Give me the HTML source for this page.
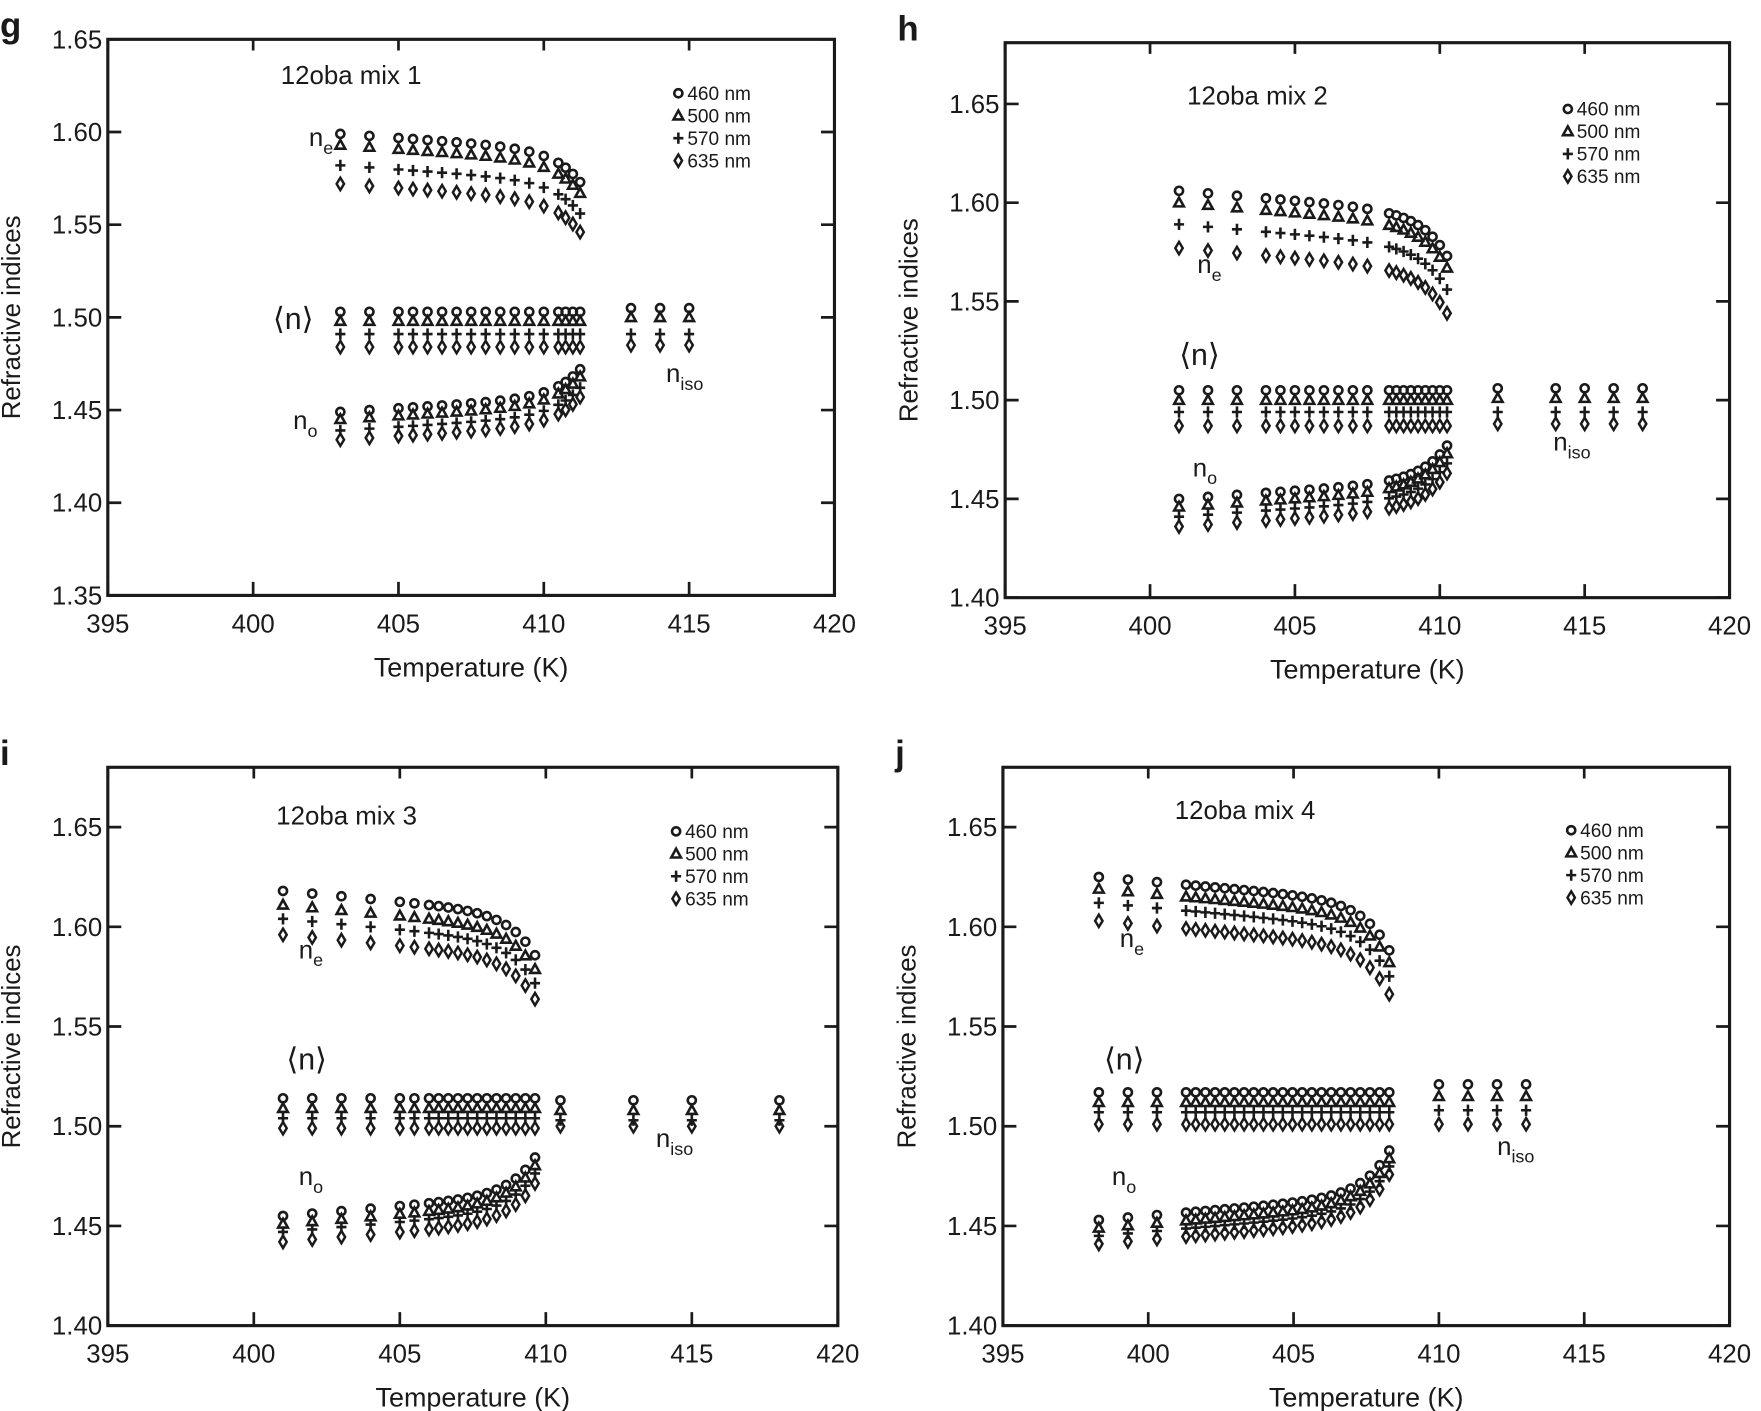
<!DOCTYPE html>
<html><head><meta charset="utf-8"><style>html,body{margin:0;padding:0;background:#fff}svg{display:block}text{font-family:"Liberation Sans",sans-serif;fill:#1a1a1a}</style></head>
<body>
<svg id="s" width="1761" height="1411" viewBox="0 0 1568 1256" preserveAspectRatio="none" xmlns="http://www.w3.org/2000/svg"></svg>
<script>
const S=document.getElementById('s');let h='';
function rng(a,b,s){const r=[];for(let t=a;t<=b+1e-6;t+=s)r.push(+t.toFixed(3));return r;}
function mk(type,x,y){
 if(type==0)return `<circle cx="${x}" cy="${y}" r="3.6" fill="none" stroke="#1a1a1a" stroke-width="2.3"/>`;
 if(type==1)return `<path d="M${x} ${y-4.5}L${x+4.3} ${y+3.3}L${x-4.3} ${y+3.3}Z" fill="none" stroke="#1a1a1a" stroke-width="2.3"/>`;
 if(type==2)return `<path d="M${x-4.5} ${y}H${x+4.5}M${x} ${y-5}V${y+5}" stroke="#1a1a1a" stroke-width="2.3"/>`;
 return `<path d="M${x} ${y-5.5}L${x+3.3} ${y}L${x} ${y+5.5}L${x-3.3} ${y}Z" fill="none" stroke="#1a1a1a" stroke-width="2.2"/>`;
}
const P=[
 {L:'g',x0:96,x1:743,y0:35,y1:530,ymin:1.35,ymax:1.65,yt:[1.35,1.40,1.45,1.50,1.55,1.60,1.65],
  temps:[403,404].concat(rng(405,410.5,0.5),[410.75,411,411.25]),T0:403,Tc:411.25,
  ne:[1.599,-0.026],neo:[0,-0.006,-0.017,-0.027],no:[1.449,0.023],noo:[0,-0.004,-0.010,-0.015],
  mean:[1.503,1.498,1.491,1.484],iso:[413,414,415],isov:[1.505,1.500,1.491,1.485],
  title:[250,75,'12oba mix 1'],leg:[604,83],ne_l:[275,130],n_l:[243,293],no_l:[261,382],iso_l:[593,340]},
 {L:'h',x0:895,x1:1540,y0:38,y1:532,ymin:1.40,ymax:1.681,yt:[1.40,1.45,1.50,1.55,1.60,1.65],
  temps:[401,402,403].concat(rng(404,407.5,0.5),rng(408.25,410.25,0.25)),T0:401,Tc:410.25,
  ne:[1.606,-0.033],neo:[0,-0.006,-0.017,-0.029],no:[1.450,0.027],noo:[0,-0.004,-0.009,-0.014],
  mean:[1.505,1.500,1.494,1.487],iso:[412,414,415,416,417],isov:[1.506,1.501,1.494,1.488],
  title:[1057,93,'12oba mix 2'],leg:[1396,97],ne_l:[1066,243],n_l:[1050,325],no_l:[1062,424],iso_l:[1383,401]},
 {L:'i',x0:96,x1:746,y0:683,y1:1180,ymin:1.40,ymax:1.68,yt:[1.40,1.45,1.50,1.55,1.60,1.65],
  temps:[401,402,403,404,405,405.5].concat(rng(406,409.66,0.33)),T0:401,Tc:409.66,
  ne:[1.618,-0.033],neo:[0,-0.007,-0.014,-0.022],no:[1.455,0.030],noo:[0,-0.004,-0.008,-0.013],
  mean:[1.514,1.509,1.504,1.499],iso:[410.5,413,415,418],isov:[1.513,1.508,1.503,1.500],
  title:[246,734,'12oba mix 3'],leg:[602,740],ne_l:[266,853],n_l:[255,952],no_l:[266,1055],iso_l:[584,1021]},
 {L:'j',x0:893,x1:1540,y0:683,y1:1180,ymin:1.40,ymax:1.68,yt:[1.40,1.45,1.50,1.55,1.60,1.65],
  temps:[398.3,399.3,400.3].concat(rng(401.3,408.3,0.333)),T0:398.3,Tc:408.3,
  ne:[1.625,-0.037],neo:[0,-0.006,-0.013,-0.022],no:[1.453,0.035],noo:[0,-0.004,-0.008,-0.012],
  mean:[1.517,1.512,1.507,1.501],iso:[410,411,412,413],isov:[1.521,1.515,1.508,1.501],
  title:[1046,729,'12oba mix 4'],leg:[1399,739],ne_l:[997,843],n_l:[983,952],no_l:[990,1055],iso_l:[1333,1028]}
];
for(const p of P){
 const X=t=>p.x0+(t-395)/25*(p.x1-p.x0), Y=v=>p.y1-(v-p.ymin)/(p.ymax-p.ymin)*(p.y1-p.y0);
 h+=`<rect x="${p.x0}" y="${p.y0}" width="${p.x1-p.x0}" height="${p.y1-p.y0}" fill="none" stroke="#1a1a1a" stroke-width="2.8"/>`;
 for(let t=395;t<=420;t+=5){const x=X(t);
  h+=`<path d="M${x} ${p.y1}v-12M${x} ${p.y0}v10" stroke="#1a1a1a" stroke-width="2.4"/>`;
  h+=`<text x="${x}" y="${p.y1+33}" font-size="23" text-anchor="middle">${t}</text>`;}
 for(const v of p.yt){const y=Y(v);
  h+=`<path d="M${p.x0} ${y}h12M${p.x1} ${y}h-12" stroke="#1a1a1a" stroke-width="2.4"/>`;
  h+=`<text x="${p.x0-5}" y="${y+8}" font-size="23" text-anchor="end">${v.toFixed(2)}</text>`;}
 const cy=(p.y0+p.y1)/2, cx=(p.x0+p.x1)/2;
 h+=`<text transform="translate(${p.x0-78},${cy}) rotate(-90)" font-size="23" text-anchor="middle">Refractive indices</text>`;
 h+=`<text x="${cx}" y="${p.y1+72}" font-size="24" text-anchor="middle">Temperature (K)</text>`;
 h+=`<text x="${p.x0-96}" y="${p.y0-2}" font-size="31" font-weight="bold">${p.L}</text>`;
 const f=t=>{const e=Math.exp((t-p.Tc)/0.9), e0=Math.exp((p.T0-p.Tc)/0.9);return 0.35*(t-p.T0)/(p.Tc-p.T0)+0.65*(e-e0)/(1-e0);};
 for(const t of p.temps){const x=X(t);
  for(let k=0;k<4;k++){
   h+=mk(k,x,Y(p.ne[0]+p.neo[k]+p.ne[1]*f(t)));
   h+=mk(k,x,Y(p.no[0]+p.noo[k]+p.no[1]*f(t)));
   h+=mk(k,x,Y(p.mean[k]));}}
 for(const t of p.iso)for(let k=0;k<4;k++)h+=mk(k,X(t),Y(p.isov[k]));
 h+=`<text x="${p.title[0]}" y="${p.title[1]}" font-size="23">${p.title[2]}</text>`;
 const nm=['460 nm','500 nm','570 nm','635 nm'];
 for(let k=0;k<4;k++){const y=p.leg[1]+k*20;h+=mk(k,p.leg[0],y);h+=`<text x="${p.leg[0]+8}" y="${y+6}" font-size="17">${nm[k]}</text>`;}
 h+=`<text x="${p.ne_l[0]}" y="${p.ne_l[1]}" font-size="23">n<tspan font-size="16" dy="7">e</tspan></text>`;
 h+=`<text x="${p.n_l[0]}" y="${p.n_l[1]}" font-size="27">⟨n⟩</text>`;
 h+=`<text x="${p.no_l[0]}" y="${p.no_l[1]}" font-size="23">n<tspan font-size="16" dy="7">o</tspan></text>`;
 h+=`<text x="${p.iso_l[0]}" y="${p.iso_l[1]}" font-size="23">n<tspan font-size="16" dy="7">iso</tspan></text>`;
}
S.innerHTML=h;
</script>
</body></html>
